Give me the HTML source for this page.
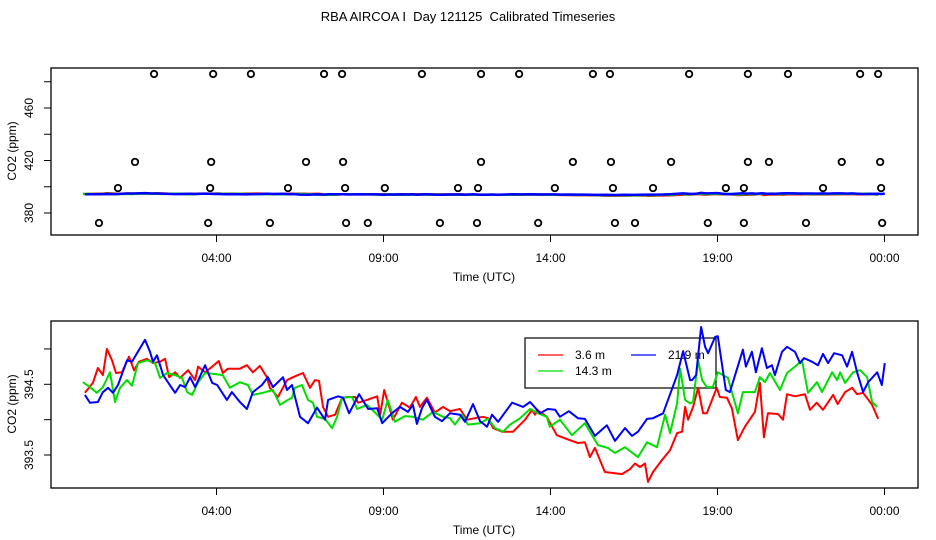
<!DOCTYPE html>
<html><head><meta charset="utf-8"><style>
html,body{margin:0;padding:0;background:#fff;}
svg{display:block;font-family:"Liberation Sans",sans-serif;}
</style></head><body>
<svg id="chart" width="936" height="540" viewBox="0 0 936 540" xmlns="http://www.w3.org/2000/svg">
<text x="468" y="21" font-size="13" text-anchor="middle" style="white-space:pre">RBA AIRCOA I  Day 121125  Calibrated Timeseries</text>
</svg>
<script>
const xTickHours = [4, 9, 14, 19, 24];
const xTickLabels = ["04:00", "09:00", "14:00", "19:00", "00:00"];
const topTicks = [380, 400, 420, 440, 460, 480];
const topTickLabels = ["380", "420", "460"];
const botTicks = [393.5, 394, 394.5, 395];
const botTickLabels = ["393.5", "394.5"];
const seriesNames = ["3.6 m", "14.3 m", "21.9 m"];

const redT = [0.06,0.30,0.45,0.60,0.72,0.87,0.99,1.17,1.38,1.53,1.68,1.92,2.10,2.31,2.46,2.58,2.76,2.91,3.15,3.36,3.45,3.66,3.87,4.07,4.19,4.34,4.70,4.91,5.09,5.30,5.51,5.60,5.84,6.11,6.29,6.59,6.80,6.95,7.07,7.19,7.34,7.55,7.76,7.94,8.15,8.24,8.51,8.81,8.90,9.02,9.13,9.28,9.55,9.79,9.97,10.09,10.30,10.54,10.78,10.99,11.29,11.50,11.74,11.98,12.13,12.28,12.55,12.88,13.24,13.45,13.54,13.60,13.89,14.19,14.58,14.82,15.03,15.18,15.33,15.63,16.14,16.38,16.53,16.68,16.83,16.92,17.07,17.34,17.58,17.79,17.94,18.03,18.12,18.27,18.42,18.57,18.68,18.98,19.07,19.28,19.43,19.61,19.82,20.12,20.27,20.39,20.51,20.81,20.96,21.08,21.32,21.62,21.77,21.97,22.16,22.46,22.60,22.82,23.03,23.18,23.36,23.63,23.81];
const redV = [394.38,394.52,394.73,394.63,395.00,394.84,394.66,394.67,394.89,394.70,394.82,394.86,394.80,394.82,394.86,394.60,394.67,394.59,394.70,394.56,394.75,394.67,394.75,394.83,394.66,394.72,394.72,394.77,394.67,394.76,394.60,394.45,394.32,394.56,394.60,394.66,394.45,394.56,394.55,394.18,394.04,394.07,394.31,394.32,394.32,394.24,394.28,394.33,394.07,394.42,394.25,394.00,394.24,394.17,394.32,394.18,394.31,394.10,394.18,394.12,394.15,394.00,394.02,394.04,394.02,393.88,393.83,393.83,394.00,394.14,394.07,394.14,394.04,393.78,393.71,393.67,393.68,393.47,393.60,393.26,393.23,393.30,393.38,393.33,393.38,393.12,393.26,393.43,393.57,393.81,393.83,394.18,394.00,394.18,394.45,394.09,394.09,394.45,394.32,394.31,394.16,393.71,393.90,394.11,394.52,393.75,394.09,394.08,394.00,394.36,394.33,394.36,394.14,394.24,394.14,394.35,394.22,394.39,394.45,394.36,394.38,394.21,394.01];

const greenT = [0.00,0.21,0.42,0.60,0.81,0.96,1.11,1.32,1.47,1.65,1.92,2.16,2.31,2.52,2.76,2.97,3.12,3.27,3.45,3.66,3.89,4.19,4.40,4.70,4.94,5.09,5.39,5.69,5.90,6.14,6.26,6.35,6.56,6.74,6.89,7.01,7.25,7.46,7.61,7.76,8.06,8.21,8.51,8.75,8.96,9.13,9.34,9.64,9.88,10.18,10.48,10.78,10.99,11.14,11.35,11.53,11.89,12.13,12.34,12.58,12.79,13.09,13.39,13.63,13.89,13.98,14.28,14.64,15.03,15.42,15.72,15.93,16.23,16.62,16.89,17.19,17.43,17.58,17.79,17.88,18.03,18.18,18.27,18.42,18.54,18.68,18.86,19.01,19.31,19.61,19.76,20.12,20.27,20.42,20.57,20.87,21.08,21.32,21.53,21.71,21.98,22.13,22.28,22.43,22.58,22.67,22.82,23.06,23.27,23.48,23.63,23.78];
const greenV = [394.53,394.46,394.38,394.46,394.67,394.25,394.45,394.56,394.48,394.80,394.84,394.80,394.59,394.66,394.63,394.59,394.39,394.35,394.53,394.66,394.65,394.63,394.45,394.53,394.49,394.35,394.38,394.42,394.21,394.28,394.31,394.45,394.49,394.28,394.24,394.04,394.01,393.88,394.04,394.31,394.32,394.15,394.21,394.10,394.00,394.28,393.97,394.05,394.04,394.00,394.11,394.04,394.02,393.93,394.07,393.93,393.95,394.01,393.88,393.83,393.93,394.02,394.15,394.09,394.04,393.90,394.00,393.78,393.95,393.64,393.60,393.53,393.61,393.47,393.68,393.61,394.07,393.81,394.23,394.72,394.28,394.23,394.25,394.84,394.56,394.46,394.46,394.67,394.59,394.09,394.39,394.39,394.60,394.53,394.66,394.42,394.66,394.75,394.84,394.38,394.53,394.39,394.53,394.67,394.56,394.67,394.52,394.67,394.70,394.60,394.25,394.18];

const blueT = [0.06,0.21,0.45,0.60,0.75,0.90,1.05,1.32,1.47,1.62,1.86,2.01,2.10,2.22,2.40,2.76,2.91,3.06,3.21,3.36,3.66,3.87,4.02,4.31,4.46,4.70,4.91,5.09,5.36,5.54,5.69,5.99,6.11,6.26,6.50,6.74,7.01,7.25,7.34,7.64,7.79,7.97,8.27,8.54,8.81,8.96,9.25,9.49,9.73,9.88,10.00,10.15,10.30,10.54,10.75,10.99,11.29,11.44,11.68,11.89,12.10,12.25,12.43,12.85,13.18,13.39,13.69,13.92,14.14,14.28,14.55,14.82,15.03,15.33,15.69,15.93,16.23,16.44,16.62,16.89,17.07,17.37,17.58,17.79,17.97,18.18,18.24,18.36,18.51,18.63,18.72,18.93,19.01,19.25,19.37,19.76,19.85,20.03,20.15,20.33,20.48,20.63,20.72,20.93,21.08,21.32,21.47,21.59,21.83,22.01,22.16,22.31,22.49,22.73,22.88,23.03,23.18,23.36,23.51,23.78,23.92,24.01];
const blueV = [394.35,394.24,394.25,394.39,394.45,394.38,394.49,394.84,394.82,394.94,395.13,394.96,394.82,394.91,394.63,394.38,394.49,394.46,394.60,394.46,394.77,394.52,394.49,394.28,394.39,394.25,394.15,394.39,394.49,394.60,394.46,394.60,394.42,394.49,394.04,393.95,394.17,394.00,394.28,394.33,394.31,394.09,394.36,394.15,394.16,393.95,394.09,394.18,394.11,394.21,393.94,394.16,394.28,394.04,393.98,394.09,394.07,393.97,394.22,393.98,393.90,394.07,393.97,394.24,394.18,394.25,394.09,394.15,394.14,394.04,394.12,394.02,394.01,393.77,393.92,393.70,393.88,393.77,393.83,394.01,394.02,394.09,394.36,394.63,394.97,394.56,394.56,394.63,395.31,395.03,394.94,395.17,395.18,394.42,394.39,394.99,394.75,394.96,394.67,395.01,394.73,394.77,394.63,394.96,395.03,394.96,394.80,394.87,394.82,394.77,394.93,394.80,394.94,394.91,394.75,394.96,394.67,394.39,394.53,394.67,394.49,394.80];

const flagT = [2.13,3.90,5.03,7.22,7.76,10.15,11.92,13.06,15.27,15.78,18.15,19.91,21.11,23.27,23.81,
  1.56,3.84,6.68,7.79,11.92,14.67,15.81,17.61,19.91,20.54,22.72,23.87,
  1.05,3.81,6.14,7.85,9.04,11.23,11.83,14.13,15.87,17.07,19.25,19.79,22.16,23.90,
  0.48,3.75,5.60,7.88,8.53,10.69,11.80,13.63,15.93,16.53,18.71,19.79,21.65,23.93];
const flagV = [485.9,485.9,485.9,485.9,485.9,485.9,485.9,485.9,485.9,485.9,485.9,485.9,485.9,485.9,485.9,
  418.9,418.9,418.9,418.9,418.9,418.9,418.9,418.9,418.9,418.9,418.9,418.9,
  399.0,399.0,399.0,399.0,399.0,399.0,399.0,399.0,399.0,399.0,399.0,399.0,399.0,399.0,
  372.4,372.4,372.4,372.4,372.4,372.4,372.4,372.4,372.4,372.4,372.4,372.4,372.4,372.4];

const NS = "http://www.w3.org/2000/svg";
const svg = document.getElementById("chart");
function mk(tag, attrs, parent) {
  const e = document.createElementNS(NS, tag);
  for (const k in attrs) e.setAttribute(k, attrs[k]);
  (parent || svg).appendChild(e);
  return e;
}
const X0 = 82.9, PXH = 33.4;
const xs = h => X0 + h * PXH;
const PL = 51, PR = 918;
const topY = v => 213 - (v - 380) * 1.3125;
const botY = v => 384.3 - (v - 394.5) * 70.7;
const colors = ["#ff0000", "#00dd00", "#0000ff"];

function panel(name, top, bottom, yf, ticks, tickLabels, labelY) {
  const g = mk("g", {});
  
  
  const box = mk("rect", {x: PL, y: top, width: PR - PL, height: bottom - top, fill: "none", stroke: "#000", "stroke-width": 1.3}, g);
  
  
  xTickHours.forEach((h, i) => {
    const t = mk("line", {x1: xs(h), x2: xs(h), y1: bottom, y2: bottom + 7, stroke: "#000"}, g);
    
    
    const l = mk("text", {x: xs(h), y: bottom + 27, "font-size": 12, "text-anchor": "middle"}, g);
    l.textContent = xTickLabels[i];
    
    
  });
  const xt = mk("text", {x: 484, y: bottom + 46, "font-size": 12, "text-anchor": "middle"}, g);
  xt.textContent = "Time (UTC)";
  
  
  ticks.forEach(v => {
    const t = mk("line", {x1: PL - 7, x2: PL, y1: yf(v), y2: yf(v), stroke: "#000"}, g);
    
    
  });
  tickLabels.forEach(s => {
    const y = yf(parseFloat(s));
    const l = mk("text", {x: 0, y: 0, "font-size": 12, "text-anchor": "middle", transform: `translate(33,${y}) rotate(-90)`}, g);
    l.textContent = s;
    
    
  });
  const yt = mk("text", {x: 0, y: 0, "font-size": 12, "text-anchor": "middle", transform: `translate(16,${labelY}) rotate(-90)`}, g);
  yt.textContent = "CO2 (ppm)";
  
  
  return g;
}
function series(g, T, V, yf, color, name, w) {
  const pts = T.map((t, i) => xs(t).toFixed(1) + "," + yf(V[i]).toFixed(1)).join(" ");
  const p = mk("polyline", {points: pts, fill: "none", stroke: color, "stroke-width": w, "stroke-linejoin": "round"}, g);
  
  
}

// top panel
const gTop = panel("top-panel", 68, 235, topY, topTicks, topTickLabels, 151);
series(gTop, redT, redV, topY, colors[0], "top-line-3-6m", 2.5);
series(gTop, greenT, greenV, topY, colors[1], "top-line-14-3m", 2.5);
series(gTop, blueT, blueV, topY, colors[2], "top-line-21-9m", 2.5);
flagT.forEach((t, i) => {
  const c = mk("circle", {cx: xs(t), cy: topY(flagV[i]), r: 3.2, fill: "none", stroke: "#000", "stroke-width": 1.8}, gTop);
  
  
});

// bottom panel
const gBot = panel("bottom-panel", 321, 488, botY, botTicks, botTickLabels, 404);
const leg = mk("g", {}, gBot);


const lbox = mk("rect", {x: 525, y: 338, width: 191, height: 50, fill: "none", stroke: "#000", "stroke-width": 1.2}, leg);


const legPos = [[538, 355], [538, 371], [631, 355]];
seriesNames.forEach((n, i) => {
  const ln = mk("line", {x1: legPos[i][0], x2: legPos[i][0] + 25, y1: legPos[i][1], y2: legPos[i][1], stroke: colors[i], "stroke-width": 1.2}, leg);
  
  
  const tx = mk("text", {x: legPos[i][0] + 37, y: legPos[i][1] + 4, "font-size": 12}, leg);
  tx.textContent = n;
  
  
});
series(gBot, redT, redV, botY, colors[0], "line-3-6m", 2);
series(gBot, greenT, greenV, botY, colors[1], "line-14-3m", 2);
series(gBot, blueT, blueV, botY, colors[2], "line-21-9m", 2);
</script>
</body></html>
